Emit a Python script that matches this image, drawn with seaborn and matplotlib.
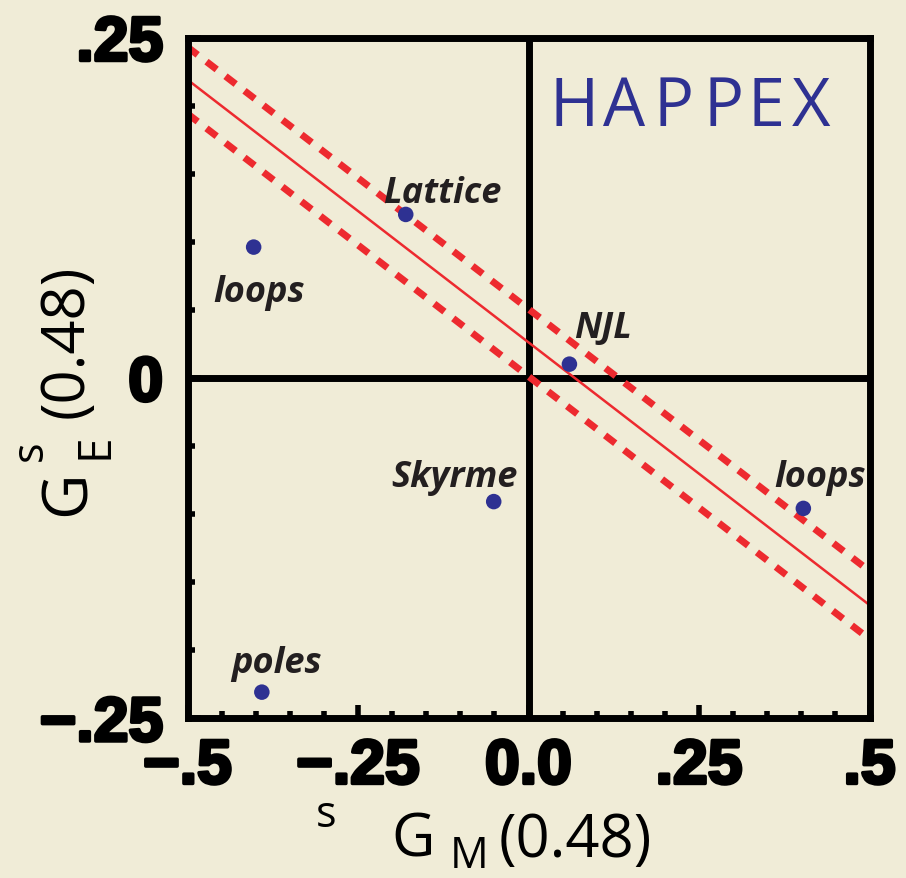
import matplotlib
matplotlib.use("Agg")
import matplotlib.pyplot as plt
import matplotlib.patheffects as pe
from matplotlib.ticker import MultipleLocator, FixedLocator
import pandas as pd
import seaborn as sns

# Model predictions for the strange form factors at Q^2 = 0.48 GeV^2
models = ["loops", "Lattice", "NJL", "Skyrme", "loops", "poles"]
gm_s = [-0.403, -0.180, 0.060, -0.051, 0.403, -0.391]
ge_s = [0.096, 0.120, 0.010, -0.091, -0.096, -0.231]

# HAPPEX constraint: central line and its error band, at G_M^s = -0.5 and 0.5
band_gm = [-0.5, 0.5]
fit_ge = [0.219, -0.167]
upper_ge = [0.243, -0.142]
lower_ge = [0.194, -0.192]

xtick_vals = [-0.5, -0.25, 0.0, 0.25, 0.5]
xtick_labels = ["\u2212.5", "\u2212.25", "0.0", ".25", ".5"]
ytick_vals = [-0.25, 0.0, 0.25]
ytick_labels = ["\u2212.25", "0", ".25"]

# label offsets from each point (points)
label_offsets = [(4.3, -38.5), (26, 8.6), (24.3, 19.4), (-28, 11.2), (12, 15.8), (10.3, 14.8)]

BG = "#f0ecd7"
RED = "#ed2a2f"
BLUE = "#2e3192"
INK = "#231f20"

sns.set_style("white", {"axes.facecolor": BG, "figure.facecolor": BG})

W, H = 906, 879
fig = plt.figure(figsize=(W / 100, H / 100), dpi=100)
fig.patch.set_facecolor(BG)
ax = fig.add_axes([187.5 / W, 1 - 719 / H, 682 / W, 680.5 / H])
ax.set_facecolor(BG)

pts = pd.DataFrame({"model": models, "GM": gm_s, "GE": ge_s})
band = pd.DataFrame({"GM": band_gm * 3,
                     "GE": fit_ge + upper_ge + lower_ge,
                     "curve": ["fit"] * 2 + ["upper"] * 2 + ["lower"] * 2})

# zero axes
ax.axhline(0, color="black", lw=5, zorder=1)
ax.axvline(0, color="black", lw=5, zorder=1)

sns.lineplot(data=band[band.curve == "fit"], x="GM", y="GE", color=RED,
             lw=1.8, ax=ax, zorder=3, legend=False)
for c in ["upper", "lower"]:
    sns.lineplot(data=band[band.curve == c], x="GM", y="GE", color=RED,
                 lw=5, ax=ax, zorder=3, legend=False,
                 dashes=False)
for ln in ax.get_lines()[-2:]:
    ln.set_dashes([1.85, 1.6])
    ln.set_dash_capstyle("butt")

sns.scatterplot(data=pts, x="GM", y="GE", color=BLUE, s=125, edgecolor="none",
                ax=ax, zorder=4, legend=False)

for name, gx, gy, off in zip(models, gm_s, ge_s, label_offsets):
    ax.annotate(name, (gx, gy), xytext=off, textcoords="offset points",
                ha="center", va="baseline", fontsize=26, fontweight="bold",
                fontstyle="italic", family="Open Sans", color=INK, zorder=5)

ax.set_xlim(-0.5, 0.5)
ax.set_ylim(-0.25, 0.25)
ax.set_xlabel("")
ax.set_ylabel("")

for sp in ax.spines.values():
    sp.set_linewidth(5)
    sp.set_color("black")
    sp.set_visible(True)
    sp.set_zorder(6)

ax.xaxis.set_major_locator(FixedLocator(xtick_vals))
ax.yaxis.set_major_locator(FixedLocator(ytick_vals))
ax.set_xticklabels(xtick_labels)
ax.set_yticklabels(ytick_labels)
ax.xaxis.set_minor_locator(MultipleLocator(0.05))
ax.yaxis.set_minor_locator(MultipleLocator(0.05))
ax.tick_params(which="both", direction="in", bottom=True, left=True,
               top=False, right=False, color="black", labelcolor="black")
ax.tick_params(which="major", length=9.4, width=4)
ax.tick_params(which="minor", length=5.3, width=4)
ax.tick_params(axis="x", which="major", pad=14)
ax.tick_params(axis="y", which="major", pad=17.5)
for lab in ax.get_xticklabels() + ax.get_yticklabels():
    lab.set_fontfamily("Liberation Sans")
    lab.set_fontweight("bold")
    lab.set_fontsize(45)
    lab.set_color("black")
    lab.set_path_effects([pe.withStroke(linewidth=2.5, foreground="black")])


def px(x, y):
    return x / W, 1 - y / H


# HAPPEX title, widely letter-spaced
for ch, cx in zip("HAPPEX", [574.5, 624, 674, 724, 766, 811.5]):
    fig.text(*px(cx, 126), ch, ha="center", va="baseline", fontsize=48,
             family="Open Sans", color=BLUE)

# x-axis label  G_M^s(0.48)
lab_kw = dict(family="Open Sans", color="black", va="baseline", ha="center")
fig.text(*px(326.5, 827), "s", fontsize=31, **lab_kw)
fig.text(*px(413, 857), "G", fontsize=43, **lab_kw)
fig.text(*px(469.5, 868), "M", fontsize=31, **lab_kw)
fig.text(*px(575, 857), "(0.48)", fontsize=43, **lab_kw)

# y-axis label  G_E^s(0.48)
rot_kw = dict(family="Open Sans", color="black", rotation=90,
              rotation_mode="anchor", ha="center", va="baseline")
fig.text(*px(42, 450.5), "s", fontsize=31, **rot_kw)
fig.text(*px(85, 493), "G", fontsize=45, **rot_kw)
fig.text(*px(108, 446), "E", fontsize=33, **rot_kw)
fig.text(*px(83, 341), "(0.48)", fontsize=43, **rot_kw)

fig.savefig("out.png", dpi=100, facecolor=BG)
